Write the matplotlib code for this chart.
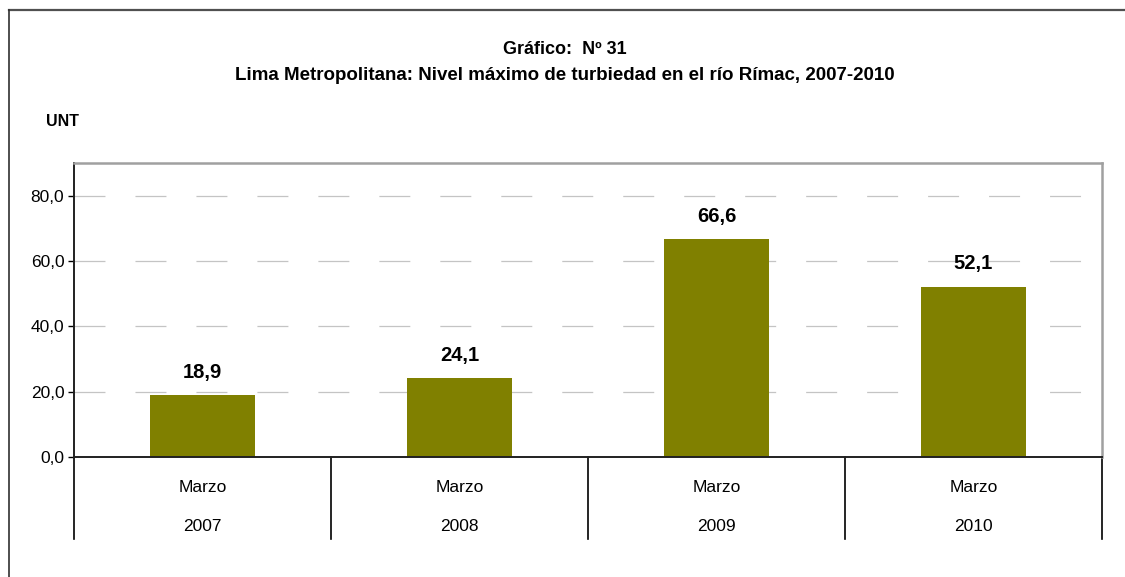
import matplotlib
matplotlib.use("Agg")
import matplotlib.pyplot as plt
from matplotlib.lines import Line2D
from matplotlib import font_manager

names = {f.name for f in font_manager.fontManager.ttflist}
fam = [n for n in ['Liberation Sans Narrow', 'Liberation Sans', 'DejaVu Sans'] if n in names]
plt.rcParams['font.family'] = fam
plt.rcParams['lines.scale_dashes'] = False

months = ['Marzo', 'Marzo', 'Marzo', 'Marzo']
years = ['2007', '2008', '2009', '2010']
values = [18.9, 24.1, 66.6, 52.1]
yticks = [0, 20, 40, 60, 80]

fig = plt.figure(figsize=(11.25, 5.77), dpi=100)
W, H = 1125, 577

# outer frame (top and left visible)
fig.add_artist(Line2D([9/W, 1.0], [1-10/H, 1-10/H], color='#505050', lw=1.6, transform=fig.transFigure))
fig.add_artist(Line2D([9/W, 9/W], [1-10/H, 0.0], color='#303030', lw=1.2, transform=fig.transFigure))

ax = fig.add_axes([74/W, 1-457/H, (1102-74)/W, (457-163)/H])
x = list(range(len(values)))
ax.bar(x, values, width=0.405, color='#808000', zorder=3)
ax.set_xlim(-0.5, len(values)-0.5)
ax.set_ylim(0, 90)
ax.set_yticks(yticks)
ax.set_yticklabels([f"{v:.1f}".replace('.', ',') for v in yticks], fontsize=12.5)
ax.tick_params(axis='y', direction='out', length=4, width=1, color='black', pad=3)
ax.set_xticks([])

for y in yticks[1:]:
    ax.axhline(y, color='#c4c4c4', lw=0.9, linestyle=(0, (22.3, 21.6)), zorder=1)

for s in ['top', 'right']:
    ax.spines[s].set_color('#a0a0a0')
    ax.spines[s].set_linewidth(1.8)
ax.spines['left'].set_color('#202020')
ax.spines['left'].set_linewidth(1.4)
ax.spines['bottom'].set_color('#202020')
ax.spines['bottom'].set_linewidth(1.4)
ax.spines['bottom'].set_zorder(4)

for xi, v in zip(x, values):
    ax.annotate(f"{v:.1f}".replace('.', ','), (xi, v), xytext=(0, 16.5),
                textcoords='offset points', ha='center', va='center',
                fontsize=14.5, fontweight='bold', color='black')

tr = ax.get_xaxis_transform()
for b in [i - 0.5 for i in range(len(values)+1)]:
    ax.plot([b, b], [0, -0.279], color='black', lw=1.2, transform=tr, clip_on=False)
for xi, m, yv in zip(x, months, years):
    ax.text(xi, -0.105, m, transform=tr, ha='center', va='center', fontsize=12.5)
    ax.text(xi, -0.238, yv, transform=tr, ha='center', va='center', fontsize=12.5)

fig.text(565/W, 1-50/H, 'Gráfico:  Nº 31', ha='center', va='center', fontsize=13, fontweight='bold')
fig.text(565/W, 1-75/H, 'Lima Metropolitana: Nivel máximo de turbiedad en el río Rímac, 2007-2010',
         ha='center', va='center', fontsize=13.5, fontweight='bold')
fig.text(62/W, 1-122/H, 'UNT', ha='center', va='center', fontsize=11.5, fontweight='bold')

fig.savefig('out.png', dpi=100)
